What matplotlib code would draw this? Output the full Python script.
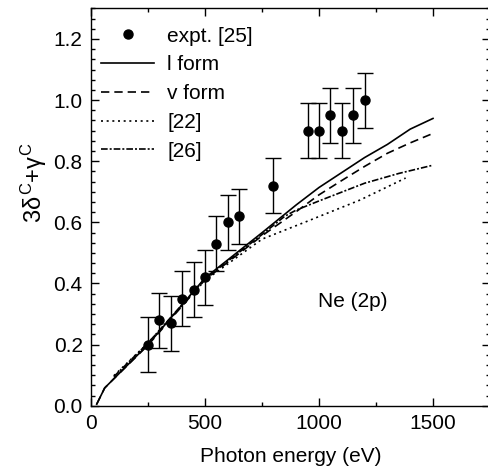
import numpy as np
import matplotlib
matplotlib.use("Agg")
import matplotlib.pyplot as plt
from matplotlib.ticker import MultipleLocator

plt.rcParams['font.family'] = ['Liberation Sans', 'DejaVu Sans']
plt.rcParams['mathtext.fontset'] = 'custom'
plt.rcParams['mathtext.rm'] = 'Liberation Sans'
plt.rcParams['mathtext.it'] = 'Liberation Sans'

# experimental data, expt. [25]
expt_e = [250, 300, 350, 400, 450, 500, 550, 600, 650, 800, 950, 1000, 1050, 1100, 1150, 1200]
expt_y = [0.20, 0.28, 0.27, 0.35, 0.38, 0.42, 0.53, 0.60, 0.62, 0.72, 0.90, 0.90, 0.95, 0.90, 0.95, 1.00]
expt_err = [0.09] * len(expt_e)

# l form
l_e = [25, 60, 100, 250, 500, 750, 900, 1000, 1200, 1300, 1400, 1500]
l_y = [0.005, 0.058, 0.088, 0.200, 0.418, 0.566, 0.657, 0.714, 0.812, 0.855, 0.905, 0.940]

# v form
v_e = [25, 60, 100, 250, 500, 750, 900, 1000, 1100, 1200, 1300, 1400, 1500]
v_y = [0.005, 0.058, 0.088, 0.198, 0.412, 0.556, 0.635, 0.690, 0.737, 0.783, 0.826, 0.860, 0.891]

# [22]
r22_e = [100, 250, 500, 750, 950, 1180, 1380]
r22_y = [0.098, 0.205, 0.410, 0.545, 0.604, 0.673, 0.745]

# [26]
r26_e = [100, 250, 500, 750, 850, 900, 1000, 1200, 1350, 1500]
r26_y = [0.095, 0.205, 0.415, 0.560, 0.620, 0.640, 0.670, 0.728, 0.760, 0.787]

fig = plt.figure(figsize=(4.88, 4.74), dpi=100)
ax = fig.add_axes([91 / 488, 68.3 / 474, 399 / 488, 398.2 / 474])

ax.errorbar(expt_e, expt_y, yerr=expt_err, fmt='none', ecolor='black',
            elinewidth=1, capsize=6, capthick=1, zorder=3)
ax.plot(expt_e, expt_y, 'o', color='black', ms=6.5, label='expt. [25]', zorder=4)
ax.plot(l_e, l_y, color='black', lw=1.2, label='l form')
ax.plot(v_e, v_y, color='black', lw=1.2, dashes=(5, 3), label='v form')
ax.plot(r22_e, r22_y, color='black', lw=1.2, dashes=(1.2, 2.2), label='[22]')
ax.plot(r26_e, r26_y, color='black', lw=1.2, dashes=(4, 1.2, 1.2, 1.2), label='[26]')

ax.text(1150, 0.34, 'Ne (2p)', fontsize=15, ha='center', va='center')

ax.set_xlim(0, 1750)
ax.set_ylim(0, 1.303)
ax.xaxis.set_major_locator(MultipleLocator(500))
ax.xaxis.set_minor_locator(MultipleLocator(250))
ax.yaxis.set_major_locator(MultipleLocator(0.2))
ax.yaxis.set_minor_locator(MultipleLocator(0.2 / 6))
ax.tick_params(which='both', direction='in', top=True, right=True, labelsize=15, width=1)
ax.tick_params(which='major', length=6, pad=6)
ax.tick_params(which='minor', length=3)
ax.yaxis.set_major_formatter(plt.FormatStrFormatter('%.1f'))
for s in ax.spines.values():
    s.set_linewidth(1)

ax.set_xlabel('Photon energy (eV)', fontsize=15, labelpad=10)
ax.set_ylabel(r'3$\delta^{\rm C}$+$\gamma^{\rm C}$', fontsize=17)
ax.yaxis.set_label_coords(-0.105, 0.56)

ax.legend(loc='upper left', bbox_to_anchor=(0.025, 0.952), frameon=False,
          fontsize=15, handlelength=2.55, handletextpad=0.63, labelspacing=0.47,
          borderaxespad=0, borderpad=0, numpoints=1)

fig.savefig('out.png', dpi=100)
